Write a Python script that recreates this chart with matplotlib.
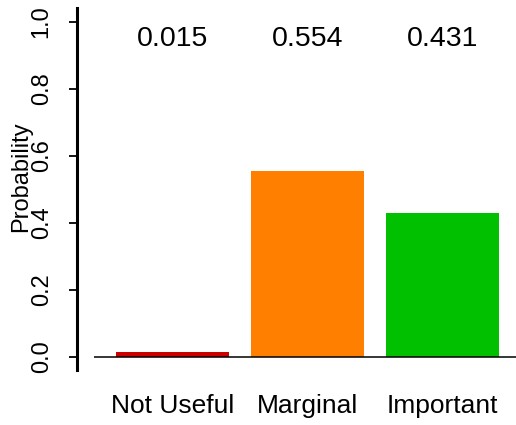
import matplotlib
matplotlib.use("Agg")
import matplotlib.pyplot as plt

# ---------- Data ----------
categories = ["Not Useful", "Marginal", "Important"]
probs = [0.015, 0.554, 0.431]
value_labels = ["0.015", "0.554", "0.431"]
bar_colors = ["#CD0000", "#FF7F00", "#00C000"]
yticks = [0.0, 0.2, 0.4, 0.6, 0.8, 1.0]

plt.rcParams["font.family"] = ["Liberation Sans", "DejaVu Sans"]

W, H = 516, 425
fig = plt.figure(figsize=(W / 100, H / 100), dpi=100)

# axes placed in pixel terms (left spine at x=77, spans y 8..370)
ax = fig.add_axes([77 / W, (H - 370) / H, (W - 77) / W, (370 - 8) / H])

# R style barplot positions: width 1, space 0.2
x = [0.2 + 1.2 * i + 0.5 for i in range(len(probs))]
ax.bar(x, probs, width=1.0, color=bar_colors, linewidth=0)

ax.set_xlim(-0.147, 3.752)
ax.set_ylim(-0.039, 1.042)

ax.hlines(0, 0, 4, color="black", linewidth=1.1)

for xi, lab in zip(x, value_labels):
    ax.text(xi, 0.95, lab, ha="center", va="center", fontsize=20.5)

ax.set_xticks(x)
ax.set_xticklabels(categories, fontsize=19)
ax.tick_params(axis="x", length=0, pad=17)

ax.set_yticks(yticks)
ax.set_yticklabels([f"{v:.1f}" for v in yticks], rotation=90,
                   fontsize=17, va="center")
ax.tick_params(axis="y", length=5.5, width=1.3, pad=12)

for s in ["top", "right", "bottom"]:
    ax.spines[s].set_visible(False)
ax.spines["left"].set_linewidth(2.2)

fig.text(21 / W, (H - 177) / H, "Probability", rotation=90,
         ha="center", va="center", fontsize=17)

fig.savefig("out.png", dpi=100)
